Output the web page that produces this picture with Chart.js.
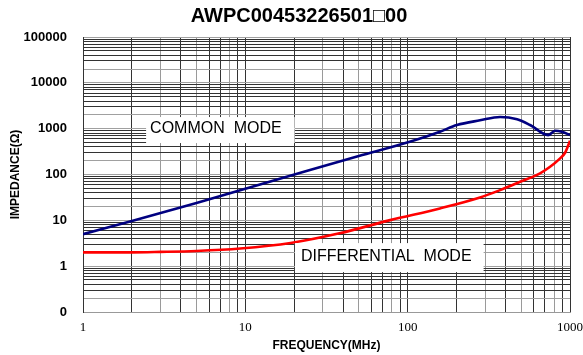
<!DOCTYPE html>
<html>
<head>
<meta charset="utf-8">
<script src="https://cdn.jsdelivr.net/npm/chart.js@4/dist/chart.umd.min.js"></script>
<style>
  html, body { margin: 0; padding: 0; background: #fff; }
  #wrap { width: 583px; height: 355px; }
</style>
</head>
<body>
<div id="wrap"><canvas id="c"></canvas></div>
<script>
// data (MHz / ohm)
const commonFreq = [1, 2, 5, 10, 25, 50, 103, 158, 201, 279, 371, 472, 568, 733, 809, 890, 1000];
const commonZ    = [5, 9.7, 24, 49, 125, 252, 517, 860, 1200, 1520, 1800, 1600, 1200, 724, 900, 855, 724];
const diffFreq   = [1, 2, 3, 5, 9.3, 19, 38, 78, 158, 279, 371, 493, 654, 754, 869, 933, 977, 1000];
const diffZ      = [2.0, 2.0, 2.05, 2.15, 2.43, 3.2, 5.2, 10.1, 18.2, 31.6, 45.6, 69.3, 106, 147, 225, 298, 438, 545];

const xLabels = [1, 10, 100, 1000];
const yLabels = [0.1, 1, 10, 100, 1000, 10000, 100000];

const titleText = 'AWPC00453226501\u25A100';

// every 1..9 x 10^n step between lo and hi -> grid lines
function decadeSteps(lo, hi) {
  const out = [];
  for (let p = lo; p < hi; p *= 10) {
    for (let m = 1; m < 10; m++) out.push(+(m * p).toPrecision(3));
  }
  out.push(hi);
  return out;
}
const mant = v => Math.round(v / Math.pow(10, Math.floor(Math.log10(v) + 1e-9)));

const xGrey = [3, 5, 8];
const yGrey = [1, 2];

const notes = [
  { text: 'COMMON  MODE', f: 2.59, z: 802, padL: 4, padR: 13, up: 16, down: 10 },
  { text: 'DIFFERENTIAL  MODE', f: 22, z: 1.29, padL: 6, padR: 12, up: 18, down: 11 }
];

const notesPlugin = {
  id: 'notes',
  afterDatasetsDraw(chart) {
    const { ctx, scales: { x, y } } = chart;
    ctx.save();
    ctx.font = '16px "Liberation Sans", Arial, sans-serif';
    ctx.textBaseline = 'alphabetic';
    notes.forEach(n => {
      const px = x.getPixelForValue(n.f), py = y.getPixelForValue(n.z);
      const w = ctx.measureText(n.text).width;
      ctx.fillStyle = '#fff';
      ctx.fillRect(px - n.padL, py - n.up, w + n.padL + n.padR, n.up + n.down);
      ctx.fillStyle = '#000';
      ctx.fillText(n.text, px, py);
    });
    ctx.restore();
  },
  afterDraw(chart) {
    const { ctx } = chart;
    ctx.save();
    ctx.font = 'bold 20px "Liberation Sans", Arial, sans-serif';
    ctx.fillStyle = '#000';
    ctx.textAlign = 'center';
    ctx.textBaseline = 'middle';
    ctx.fillText(titleText, 299, 16);
    ctx.restore();
  }
};

new Chart(document.getElementById('c'), {
  type: 'line',
  data: {
    datasets: [
      { label: 'COMMON MODE', data: commonFreq.map((f, i) => ({ x: f, y: commonZ[i] })),
        borderColor: '#000080', borderWidth: 2.6, pointRadius: 0, cubicInterpolationMode: 'monotone', fill: false },
      { label: 'DIFFERENTIAL MODE', data: diffFreq.map((f, i) => ({ x: f, y: diffZ[i] })),
        borderColor: '#ff0000', borderWidth: 2.6, pointRadius: 0, cubicInterpolationMode: 'monotone', fill: false }
    ]
  },
  options: {
    responsive: true,
    maintainAspectRatio: false,
    animation: false,
    layout: { padding: { top: 37, right: 13, left: 0, bottom: 0 } },
    plugins: { legend: { display: false }, tooltip: { enabled: false }, title: { display: false } },
    scales: {
      x: {
        type: 'logarithmic', min: 1, max: 1000,
        afterBuildTicks: s => { s.ticks = decadeSteps(1, 1000).map(v => ({ value: v })); },
        afterFit: s => { s.height = 43; s.paddingLeft = 0; s.paddingRight = 0; },
        ticks: {
          autoSkip: false, maxRotation: 0, padding: 8, color: '#000',
          font: { family: '"Liberation Serif", "Times New Roman", serif', size: 13 },
          callback: v => xLabels.includes(v) ? String(v) : ''
        },
        grid: { drawTicks: false, lineWidth: 1,
          color: c => (c.tick && xGrey.includes(mant(c.tick.value))) ? '#9a9a9a' : '#333' },
        border: { display: true, color: '#999', width: 1 },
        title: { display: true, text: 'FREQUENCY(MHz)', color: '#000',
          font: { family: '"Liberation Sans", Arial, sans-serif', size: 12, weight: 'bold' },
          padding: { top: 0, bottom: 2 } }
      },
      y: {
        type: 'logarithmic', min: 0.1, max: 100000,
        afterBuildTicks: s => { s.ticks = decadeSteps(0.1, 100000).map(v => ({ value: v })); },
        afterFit: s => { s.width = 83; s.paddingTop = 0; s.paddingBottom = 0; },
        ticks: {
          autoSkip: false, padding: 16, color: '#000',
          font: { family: '"Liberation Sans", Arial, sans-serif', size: 13, weight: 'bold' },
          callback: v => yLabels.includes(v) ? (v < 1 ? '0' : String(v)) : ''
        },
        grid: { drawTicks: false, lineWidth: 1,
          color: c => (c.tick && yGrey.includes(mant(c.tick.value))) ? '#a0a0a0' : '#333' },
        border: { display: true, color: '#333', width: 1 },
        title: { display: true, text: 'IMPEDANCE(\u03A9)', color: '#000',
          font: { family: '"Liberation Sans", Arial, sans-serif', size: 12, weight: 'bold' },
          padding: { top: 8, bottom: 0 } }
      }
    }
  },
  plugins: [notesPlugin]
});
</script>
</body>
</html>
